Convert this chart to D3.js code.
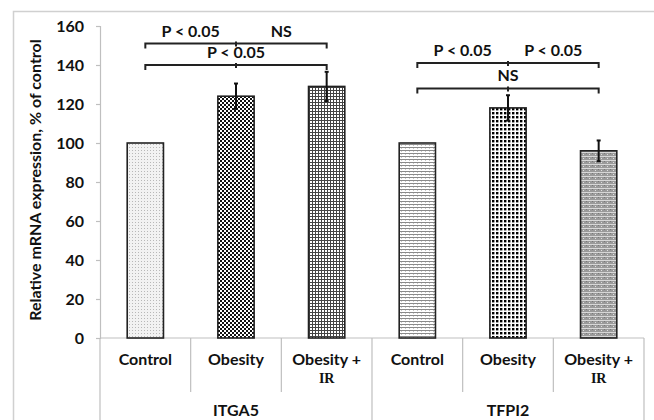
<!DOCTYPE html>
<html><head><meta charset="utf-8">
<script src="https://cdn.jsdelivr.net/npm/d3@7"></script>
<style>html,body{margin:0;padding:0;background:#fff;}svg{display:block;}</style>
</head><body>
<svg id="c" width="654" height="420"></svg>
<script>
const groups = ["ITGA5", "TFPI2"];
const conditions = ["Control", "Obesity", "Obesity +"];
const conditionSub = ["", "", "IR"];
const values = [100, 124, 129, 100, 118, 96];
const errors = [0, 6.5, 7.5, 0, 6.5, 5.3];
const yTicks = [0, 20, 40, 60, 80, 100, 120, 140, 160];
const yTitle = "Relative mRNA expression, % of control";
// comparisons between bars (indexes) at a given level, with their labels
const brackets = [
  {from: 0, mid: 1, to: 2, level: 151, left: "P < 0.05", right: "NS"},
  {from: 0, mid: 1, to: 2, level: 140, center: "P < 0.05"},
  {from: 3, mid: 4, to: 5, level: 141, left: "P < 0.05", right: "P < 0.05"},
  {from: 3, mid: 4, to: 5, level: 128, center: "NS"}
];

(function () {
const svg = d3.select("#c");
const font = "Lato, 'Open Sans', sans-serif";
const W = 654, H = 420;
const mL = 100, mR = 644, mT = 26, mB = 338;

// patterns
const defs = svg.append("defs");
function pat(id, w, h, build) {
  const p = defs.append("pattern").attr("id", id).attr("patternUnits", "userSpaceOnUse")
    .attr("width", w).attr("height", h);
  build(p);
}
pat("p0", 3, 3, p => {
  p.append("rect").attr("width", 3).attr("height", 3).attr("fill", "#f2f2f2");
  p.append("rect").attr("x", 0).attr("y", 0).attr("width", 1).attr("height", 1).attr("fill", "#b8b8b8");
});
pat("p1", 4, 4, p => {
  p.append("rect").attr("width", 4).attr("height", 4).attr("fill", "#fff");
  p.append("rect").attr("width", 2).attr("height", 2).attr("fill", "#111");
  p.append("rect").attr("x", 2).attr("y", 2).attr("width", 2).attr("height", 2).attr("fill", "#111");
});
pat("p2", 3, 3, p => {
  p.append("rect").attr("width", 3).attr("height", 3).attr("fill", "#fff");
  p.append("rect").attr("width", 3).attr("height", 1).attr("fill", "#444");
  p.append("rect").attr("width", 1).attr("height", 3).attr("fill", "#444");
});
pat("p3", 4, 3, p => {
  p.append("rect").attr("width", 4).attr("height", 3).attr("fill", "#fff");
  p.append("rect").attr("width", 4).attr("height", 1).attr("fill", "#8a8a8a");
  p.append("rect").attr("x", 1).attr("y", 1).attr("width", 1).attr("height", 1).attr("fill", "#c8c8c8");
});
pat("p4", 4, 4, p => {
  p.append("rect").attr("width", 4).attr("height", 4).attr("fill", "#fff");
  p.append("rect").attr("width", 2.4).attr("height", 2.4).attr("fill", "#000");
});
pat("p5", 6, 4, p => {
  p.append("rect").attr("width", 6).attr("height", 4).attr("fill", "#9a9a9a");
  p.append("rect").attr("x", 0).attr("y", 0).attr("width", 6).attr("height", 1).attr("fill", "#d8d8d8");
  p.append("rect").attr("x", 1).attr("y", 2).attr("width", 1).attr("height", 1).attr("fill", "#e0e0e0");
  p.append("rect").attr("x", 4).attr("y", 1).attr("width", 1).attr("height", 1).attr("fill", "#777");
});

// frame
svg.append("rect").attr("x", 13.5).attr("y", 11.5).attr("width", 700).attr("height", 500)
  .attr("fill", "none").attr("stroke", "#d0d0d0").attr("stroke-width", 1.5);

const idx = d3.range(values.length);
const x = d3.scaleBand().domain(idx).range([mL, mR]).paddingInner(0.6).paddingOuter(0.3);
const step = x.step();
const cx = i => x(i) + x.bandwidth() / 2;
const y = d3.scaleLinear().domain([0, 160]).range([mB, mT]);

// y axis
const yAxis = d3.axisLeft(y).tickValues(yTicks).tickSize(4).tickPadding(12);
const ga = svg.append("g").attr("transform", `translate(${mL},0)`).call(yAxis);
ga.select(".domain").attr("stroke", "#bfbfbf").attr("stroke-width", 1.2);
ga.selectAll(".tick line").attr("stroke", "#bfbfbf").attr("stroke-width", 1.2);
ga.selectAll(".tick text").attr("font-family", font).attr("font-weight", "bold")
  .attr("font-size", 16).attr("fill", "#111");

// x axis baseline and category boxes
const gl = svg.append("g").attr("stroke", "#bfbfbf").attr("stroke-width", 1.2);
gl.append("line").attr("x1", mL).attr("x2", mR).attr("y1", mB).attr("y2", mB);
idx.concat([values.length]).forEach(i => {
  const xx = mL + step * i;
  const long = i % 3 === 0;
  gl.append("line").attr("x1", xx).attr("x2", xx).attr("y1", mB).attr("y2", long ? H : 392);
});

// bars
const patIds = ["p0", "p1", "p2", "p3", "p4", "p5"];
svg.append("g").selectAll("rect").data(idx).join("rect")
  .attr("x", i => x(i)).attr("width", x.bandwidth())
  .attr("y", i => y(values[i])).attr("height", i => y(0) - y(values[i]))
  .attr("fill", i => `url(#${patIds[i]})`).attr("stroke", "#222").attr("stroke-width", 1.6);

// error bars
const ge = svg.append("g").attr("stroke", "#111").attr("stroke-width", 2);
idx.filter(i => errors[i] > 0).forEach(i => {
  const c = cx(i);
  ge.append("line").attr("x1", c).attr("x2", c).attr("y1", y(values[i] + errors[i])).attr("y2", y(values[i] - errors[i]));
  [values[i] + errors[i], values[i] - errors[i]].forEach(v => {
    ge.append("line").attr("x1", c - 2).attr("x2", c + 2).attr("y1", y(v)).attr("y2", y(v));
  });
});

// brackets
const gb = svg.append("g");
brackets.forEach(b => {
  const x1 = cx(b.from), x2 = cx(b.to), xm = cx(b.mid), yy = y(b.level);
  gb.append("path")
    .attr("d", `M${x1},${yy + 5}V${yy}H${x2}V${yy + 5}M${xm},${yy - 2}V${yy + 3}`)
    .attr("fill", "none").attr("stroke", "#222").attr("stroke-width", 2);
  const t = (txt, xx) => gb.append("text").attr("x", xx).attr("y", yy - 7)
    .attr("text-anchor", "middle").attr("font-family", font).attr("font-weight", "bold")
    .attr("font-size", 16).attr("fill", "#111").text(txt);
  if (b.left) t(b.left, (x1 + xm) / 2);
  if (b.right) t(b.right, (xm + x2) / 2);
  if (b.center) t(b.center, xm);
});

// category labels
const gc = svg.append("g").attr("text-anchor", "middle").attr("fill", "#111");
idx.forEach(i => {
  const c = mL + step * (i + 0.5);
  gc.append("text").attr("x", c).attr("y", 365).attr("font-family", font).attr("font-weight", "bold")
    .attr("font-size", 16).text(conditions[i % 3]);
  if (conditionSub[i % 3]) {
    gc.append("text").attr("x", c).attr("y", 383).attr("font-family", "'Liberation Serif', serif")
      .attr("font-weight", "bold").attr("font-size", 14).text(conditionSub[i % 3]);
  }
});
groups.forEach((g, k) => {
  gc.append("text").attr("x", mL + step * (3 * k + 1.5)).attr("y", 416).attr("font-family", font)
    .attr("font-weight", "bold").attr("font-size", 16).text(g);
});

// y title
svg.append("text").attr("transform", `translate(41,180) rotate(-90)`)
  .attr("text-anchor", "middle").attr("font-family", font).attr("font-weight", "bold")
  .attr("font-size", 16).attr("fill", "#111").text(yTitle);
})();
</script>
</body></html>
